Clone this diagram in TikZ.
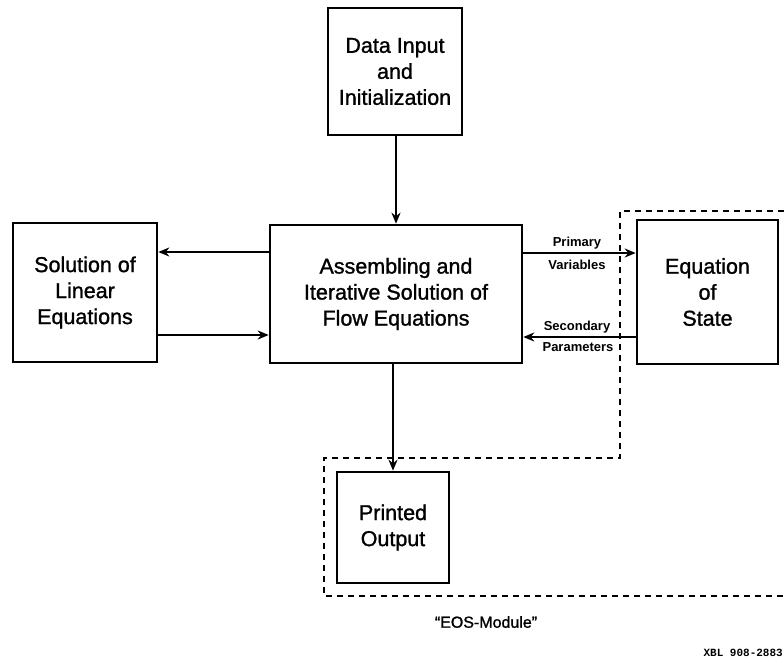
\documentclass[tikz,border=0pt]{standalone}
\usepackage{fontspec}
\setmainfont{Liberation Sans}
\newfontfamily\heavyfont{Liberation Sans}[FakeBold=1.2]
\newfontfamily\monofont{Liberation Mono}
\usetikzlibrary{arrows.meta}
\tikzset{
  blk/.style={draw, line width=2.6pt, inner sep=0pt, align=center,
    font=\fontsize{21.5}{26}\heavyfont},
  arr/.style={line width=2.2pt, -{Stealth[length=11pt,width=9pt]}},
  lbl/.style={inner sep=0pt, font=\fontsize{13}{14}\selectfont\bfseries},
  eosline/.style={line width=2.6pt, dash pattern=on 6pt off 5pt}
}
\begin{document}
\begin{tikzpicture}[x=1pt,y=-1pt]
\useasboundingbox[fill=white] (0,0) rectangle (784,662);
% boxes
\node[blk, minimum width=134pt, minimum height=127pt] (data) at (395,71.5) {Data Input\\and\\Initialization};
\node[blk, minimum width=144pt, minimum height=139pt] (sol) at (85,292.5) {Solution of\\Linear\\Equations};
\node[blk, minimum width=252pt, minimum height=138pt] (asm) at (396,294) {Assembling and\\Iterative Solution of\\Flow Equations};
\node[blk, minimum width=141pt, minimum height=144pt] (eos) at (707.5,292) {Equation\\of\\State};
\node[blk, minimum width=112pt, minimum height=111pt] (out) at (393,527.5) {Printed\\Output};
% EOS module boundary
\coordinate (m1) at (784,211);
\coordinate (m2) at (620,211);
\coordinate (m3) at (620,458);
\coordinate (m4) at (324,458);
\coordinate (m5) at (324,596);
\coordinate (m6) at (784,596);
\draw[eosline] (m1) -- (m2) -- (m3) -- (m4) -- (m5) -- (m6);
% connectors
\draw[arr] (data.south -| asm.north) -- (asm.north);
\draw[arr] (asm.west |- 0,252) -- (sol.east |- 0,252);
\draw[arr] (sol.east |- 0,335) -- (asm.west |- 0,335);
\draw[arr] (asm.east |- 0,253) -- (eos.west |- 0,253);
\draw[arr] (eos.west |- 0,337) -- (asm.east |- 0,337);
\draw[arr] (asm.south -| out.north) -- (out.north);
% labels
\node[lbl] (pv1) at (577,243) {Primary};
\node[lbl] (pv2) at (577,265) {Variables};
\node[lbl] (sp1) at (577,327) {Secondary};
\node[lbl] (sp2) at (578,347) {Parameters};
\node[inner sep=0pt, font=\fontsize{16}{18}\heavyfont] (mod) at (486,622) {“EOS-Module”};
\node[inner sep=0pt, anchor=east, font=\fontsize{11}{12}\selectfont\monofont\bfseries] (xbl) at (783,653) {XBL 908-2883};
\end{tikzpicture}
\end{document}
